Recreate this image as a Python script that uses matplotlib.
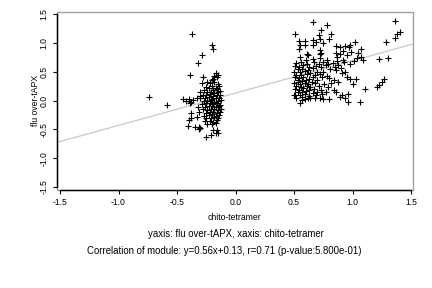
import matplotlib
matplotlib.use("Agg")
import matplotlib.pyplot as plt
from matplotlib.patches import Rectangle

# ── data ───────────────────────────────────────────────────────────────────
# left cluster (chito-tetramer ~ -0.3), sparse outliers then dense block
left_x = [-0.37, -0.20, -0.19, -0.29, -0.32, -0.39, -0.28, -0.17, -0.15, -0.19,
          -0.29, -0.74, -0.59, -0.45, -0.42, -0.40, -0.38, -0.36, -0.33, -0.30,
          -0.39, -0.38, -0.38, -0.41, -0.35, -0.31, -0.31, -0.19, -0.17, -0.15,
          -0.25, -0.21, -0.40, -0.30, -0.16, -0.18, -0.16,
          -0.22, -0.18, -0.15, -0.25, -0.20, -0.17, -0.14, -0.27, -0.23, -0.19,
          -0.16, -0.13, -0.24, -0.21, -0.18, -0.15, -0.28, -0.25, -0.22, -0.19,
          -0.16, -0.13, -0.30, -0.26, -0.23, -0.20, -0.17, -0.14, -0.27, -0.24,
          -0.21, -0.18, -0.15, -0.12, -0.29, -0.25, -0.22, -0.19, -0.16, -0.13,
          -0.26, -0.23, -0.20, -0.17, -0.14, -0.28, -0.24, -0.21, -0.18, -0.15,
          -0.12, -0.25, -0.22, -0.19, -0.16, -0.13, -0.27, -0.23, -0.20, -0.17,
          -0.14, -0.25, -0.21, -0.18, -0.15, -0.26, -0.22, -0.19, -0.16, -0.24,
          -0.20, -0.17, -0.32, -0.31, -0.33, -0.30, -0.20, -0.24]
left_y = [1.15, 0.97, 0.89, 0.79, 0.65, 0.45, 0.40, 0.47, 0.44, 0.38,
          0.31, 0.07, -0.08, 0.02, -0.01, 0.03, -0.02, 0.01, 0.04, 0.08,
          -0.05, -0.22, -0.31, -0.44, -0.45, -0.46, -0.50, -0.51, -0.56, -0.57,
          -0.63, -0.60, -0.33, -0.48, -0.51, 0.42, 0.40,
          0.30, 0.32, 0.28, 0.24, 0.26, 0.22, 0.25, 0.19, 0.21, 0.18,
          0.20, 0.17, 0.14, 0.15, 0.13, 0.15, 0.10, 0.09, 0.11, 0.08,
          0.10, 0.09, 0.05, 0.04, 0.06, 0.03, 0.05, 0.04, 0.00, -0.01,
          0.01, -0.02, 0.00, 0.01, -0.06, -0.05, -0.04, -0.06, -0.05, -0.07,
          -0.11, -0.09, -0.10, -0.12, -0.10, -0.15, -0.16, -0.14, -0.15, -0.17,
          -0.15, -0.21, -0.19, -0.20, -0.22, -0.20, -0.26, -0.25, -0.24, -0.26,
          -0.25, -0.30, -0.31, -0.29, -0.31, -0.36, -0.35, -0.37, -0.34, -0.40,
          -0.41, -0.39, -0.12, -0.20, -0.28, 0.15, 0.36, 0.33]

# right cluster (chito-tetramer ~ 0.5 .. 1.4)
right_x = [0.66, 0.78, 0.73, 0.71, 0.51, 0.82, 1.36, 1.38, 1.41, 1.36, 1.29,
           0.54, 0.59, 0.55, 0.59, 0.66, 0.69, 0.66, 0.72, 0.75, 0.80, 0.86,
           0.89, 0.94, 0.98, 1.02, 0.97, 0.72, 0.73, 0.72, 0.54, 0.61, 0.62,
           0.55, 0.86, 0.89, 0.87, 0.92, 0.95, 0.99, 1.05, 1.07, 1.04, 1.07,
           1.09, 1.23, 1.30, 0.93, 0.98, 1.01, 0.91, 0.95, 1.03, 1.21, 1.23,
           1.25, 1.27, 1.11, 1.06, 0.96, 0.94, 0.89, 0.91, 0.96, 0.86, 0.84,
           0.55, 0.57, 0.51, 0.59, 0.64, 0.68, 0.72, 0.75, 0.80,
           0.66, 0.72, 0.60, 0.78, 0.87, 0.92,
           0.52, 0.56, 0.61, 0.67, 0.71, 0.75, 0.79, 0.83,
           0.51, 0.54, 0.58, 0.63, 0.69, 0.73, 0.77, 0.85, 0.88,
           0.53, 0.57, 0.62, 0.66, 0.81, 0.90,
           0.50, 0.55, 0.59, 0.64, 0.70, 0.75, 0.86, 0.94,
           0.52, 0.56, 0.61, 0.68, 0.72, 0.78,
           0.51, 0.54, 0.58, 0.63, 0.66, 0.74, 0.80, 0.98,
           0.53, 0.57, 0.60, 0.65, 0.70, 0.84, 0.88,
           0.50, 0.55, 0.59, 0.62, 0.68, 0.76, 0.82, 1.00,
           0.52, 0.56, 0.61, 0.64, 0.71, 0.79,
           0.51, 0.54, 0.58, 0.63, 0.67, 0.73,
           0.53, 0.57, 0.60, 0.66, 0.70, 0.77,
           0.50, 0.55, 0.59, 0.63, 0.69, 0.74,
           0.52, 0.57, 0.62, 0.53]
right_y = [1.36, 1.31, 1.22, 1.13, 1.15, 1.15, 1.38, 1.15, 1.18, 1.08, 1.01,
           1.03, 1.03, 0.97, 0.97, 1.05, 1.02, 0.97, 1.06, 0.99, 1.07, 0.94,
           0.93, 0.94, 0.96, 1.01, 0.92, 0.87, 0.83, 0.80, 0.89, 0.80, 0.79,
           0.76, 0.83, 0.80, 0.76, 0.86, 0.79, 0.84, 0.83, 0.89, 0.73, 0.75,
           0.70, 0.72, 0.74, 0.67, 0.64, 0.69, 0.47, 0.41, 0.38, 0.23, 0.27,
           0.33, 0.37, 0.20, -0.03, -0.03, 0.04, 0.07, 0.10, 0.11, 0.15, 0.18,
           -0.05, 0.01, 0.10, 0.02, 0.04, 0.04, 0.05, 0.02, 0.03,
           0.72, 0.74, 0.70, 0.70, 0.69, 0.71,
           0.65, 0.66, 0.64, 0.67, 0.64, 0.66, 0.63, 0.65,
           0.60, 0.58, 0.61, 0.59, 0.60, 0.58, 0.61, 0.59, 0.62,
           0.54, 0.55, 0.53, 0.56, 0.54, 0.56,
           0.50, 0.49, 0.51, 0.48, 0.50, 0.49, 0.53, 0.50,
           0.45, 0.44, 0.46, 0.44, 0.46, 0.43,
           0.40, 0.39, 0.41, 0.38, 0.40, 0.41, 0.39, 0.38,
           0.35, 0.34, 0.36, 0.33, 0.35, 0.36, 0.33,
           0.30, 0.29, 0.31, 0.28, 0.30, 0.29, 0.31, 0.28,
           0.25, 0.24, 0.26, 0.23, 0.25, 0.24,
           0.20, 0.19, 0.21, 0.18, 0.20, 0.19,
           0.15, 0.14, 0.16, 0.13, 0.15, 0.14,
           0.10, 0.09, 0.11, 0.08, 0.10, 0.11,
           0.05, 0.06, 0.04, 0.32]

slope, intercept = 0.56, 0.13
ticks = [-1.5, -1.0, -0.5, 0.0, 0.5, 1.0, 1.5]
tick_labels = ["-1.5", "-1.0", "-0.5", "0.0", "0.5", "1.0", "1.5"]

# ── figure ──────────────────────────────────────────────────────────────────
plt.rcParams['font.family'] = ['Liberation Sans', 'DejaVu Sans']
fs_tick = 6.2
fs_label = 6.2
fs_text = 6.9

fig = plt.figure(figsize=(4.32, 2.88), dpi=100)
ax = fig.add_axes([57 / 432, 1 - 190 / 288, (413 - 57) / 432, (190 - 12) / 288])
ax.set_xlim(-1.526, 1.517)
ax.set_ylim(-1.55, 1.535)

ax.axline((0, intercept), slope=slope, color="#c8c8c8", lw=0.9, zorder=1)
ax.plot(left_x + right_x, left_y + right_y, ls="none", marker="+",
        ms=4, mew=0.8, color="black", zorder=2)

# grey box, black R-style axes limited to the tick range
for s in ax.spines.values():
    s.set_visible(False)
ax.add_patch(Rectangle((0, 0), 1, 1, transform=ax.transAxes, fill=False,
                       edgecolor="#a0a0a0", lw=1.0, zorder=0, clip_on=False))
for side in ("left", "bottom"):
    ax.spines[side].set_visible(True)
    ax.spines[side].set_color("black")
    ax.spines[side].set_linewidth(1.0)
    ax.spines[side].set_bounds(-1.5, 1.5)

ax.set_xticks(ticks, tick_labels)
ax.set_yticks(ticks, tick_labels)
ax.tick_params(length=3, width=0.8, labelsize=fs_tick, pad=3)
plt.setp(ax.get_yticklabels(), rotation=90, va="center")

fig.text(235 / 432, 1 - 217 / 288, "chito-tetramer", ha="center", va="center", fontsize=fs_label)
fig.text(35 / 432, 1 - 100 / 288, "flu over-tAPX", ha="center", va="center",
         rotation=90, fontsize=fs_label)
fig.text(236 / 432, 1 - 234 / 288, "yaxis: flu over-tAPX, xaxis: chito-tetramer",
         ha="center", va="center", fontsize=fs_text)
fig.text(224 / 432, 1 - 251 / 288,
         "Correlation of module: y=0.56x+0.13, r=0.71 (p-value:5.800e-01)",
         ha="center", va="center", fontsize=fs_text)

fig.savefig("out.png", dpi=100)
